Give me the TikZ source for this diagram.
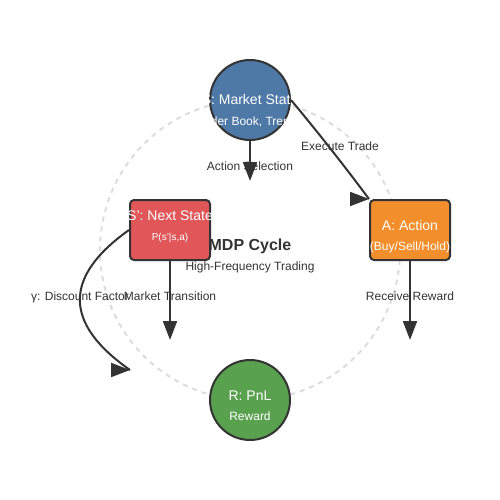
\documentclass[tikz,border=0pt]{standalone}
\usepackage{fontspec}
\setmainfont{Liberation Sans}
\usetikzlibrary{arrows.meta}
\definecolor{stateblue}{HTML}{4E79A7}
\definecolor{actionorange}{HTML}{F28E2B}
\definecolor{nextred}{HTML}{E15759}
\definecolor{rewardgreen}{HTML}{59A14F}
\definecolor{ink}{HTML}{333333}
\definecolor{ringgray}{HTML}{DDDDDD}

\begin{document}
\begin{tikzpicture}[x = 1pt, y = -1pt,
	state/.style = {draw = ink, line width = 2pt, shape = circle, inner sep = 0pt, minimum size = 80pt},
	box/.style = {draw = ink, line width = 2pt, shape = rectangle, rounded corners = 4pt, inner sep = 0pt, minimum width = 80pt, minimum height = 60pt},
	titletext/.style = {text = white, inner sep = 0pt, anchor = base, font = \fontsize{14}{16}\selectfont},
	infotext/.style = {text = white, inner sep = 0pt, anchor = base, font = \fontsize{12}{14}\selectfont},
	tag/.style = {text = ink, inner sep = 0pt, anchor = base, font = \fontsize{12}{14}\selectfont},
	link/.style = {draw = ink, line width = 2pt},
	head/.style = {link, -{Triangle[length = 19pt, width = 14pt]}}]
	\useasboundingbox (0,0) rectangle (500,500);
	% cycle ring
	\draw[ringgray, line width = 2pt, dash pattern = on 5pt off 5pt] (250,250) circle [radius = 150];
	\node[tag, font = \bfseries\fontsize{16}{18}\selectfont] (cycle) at (250,250) {MDP Cycle};
	\node[tag] (hft) at (250,270) {High-Frequency Trading};
	% edge labels
	\node[tag] (select) at (250,170) {Action Selection};
	\node[tag] (execute) at (340,150) {Execute Trade};
	\node[tag] (transition) at (170,300) {Market Transition};
	\node[tag] (receive) at (410,300) {Receive Reward};
	\node[tag] (gamma) at (80,300) {γ: Discount Factor};
	% states
	\node[state, fill = stateblue] (S) at (250,100) {};
	\node[box, fill = actionorange] (A) at (410,230) {};
	\node[box, fill = nextred] (N) at (170,230) {};
	\node[state, fill = rewardgreen] (R) at (250,400) {};
	\node[titletext] (S-name) at (250,105) {S: Market State};
	\node[infotext] (S-info) at (250,125) {(Order Book, Trends)};
	\node[titletext] (A-name) at (410,230) {A: Action};
	\node[infotext] (A-info) at (410,250) {(Buy/Sell/Hold)};
	\node[titletext] (N-name) at (170,220) {S': Next State};
	\node[infotext, font = \fontsize{10}{12}\selectfont] (N-info) at (170,240) {P(s'|s,a)};
	\node[titletext] (R-name) at (250,400) {R: PnL};
	\node[infotext] (R-info) at (250,420) {Reward};
	% connectors
	\coordinate (S-end) at (250,181);
	\coordinate (N-end) at (170,340);
	\coordinate (A-end) at (410,340);
	\coordinate (gamma-end) at (130,370);
	\draw[head] (S.south) -- (S-end);
	\draw[link] (S.east) .. controls (313.3,126.7) and (340,160) .. (A.north west);
	\draw[head] ([xshift = -19pt]A.north west) -- (A.north west);
	\draw[head] (N.south) -- (N-end);
	\draw[head] (A.south) -- (A-end);
	\draw[link] (N.west) .. controls (63.3,276.7) and (63.3,323.3) .. (gamma-end);
	\draw[head] ([xshift = -19pt]gamma-end) -- (gamma-end);
\end{tikzpicture}
\end{document}
